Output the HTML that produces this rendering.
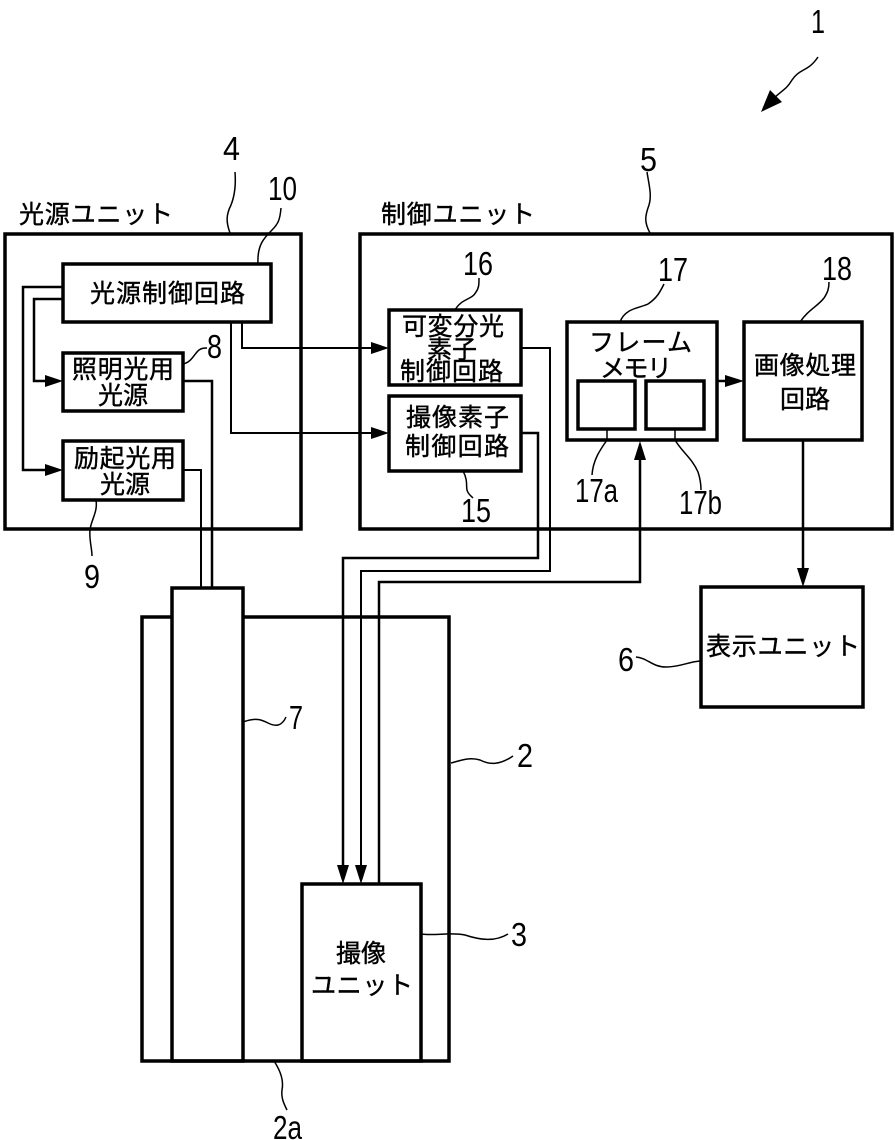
<!DOCTYPE html>
<html lang="ja">
<head>
<meta charset="utf-8">
<style>
html,body{margin:0;padding:0;background:#fff}
svg{display:block}
.j{font-family:"Liberation Sans","Noto Sans CJK JP",sans-serif;font-size:25px;fill:#000;stroke:#000;stroke-width:.4}
.n{font-family:"Liberation Sans",sans-serif;font-size:33px;fill:#000}
.t{fill:none;stroke:#000;stroke-width:3.5}
.w{fill:none;stroke:#000;stroke-width:2.5}
.c{fill:none;stroke:#000;stroke-width:2}
.s{fill:none;stroke:#000;stroke-width:1.5}
</style>
</head>
<body>
<svg width="895" height="1140" viewBox="0 0 895 1140" xmlns="http://www.w3.org/2000/svg">
<rect width="895" height="1140" fill="#fff"/>
<!-- unit boxes -->
<rect class="t" x="5" y="234" width="296" height="295"/>
<rect class="t" x="360" y="234" width="532" height="295"/>
<!-- light unit -->
<rect class="t" x="63" y="264" width="208" height="58"/>
<rect class="t" x="63" y="353" width="120" height="58"/>
<rect class="t" x="63" y="441" width="120" height="59"/>
<!-- control unit -->
<rect class="t" x="389" y="310" width="132" height="75"/>
<rect class="t" x="389" y="396" width="132" height="75"/>
<rect class="t" x="567" y="322" width="150" height="118"/>
<rect class="t" x="578" y="381" width="57" height="48"/>
<rect class="t" x="646" y="381" width="58" height="48"/>
<rect class="t" x="744" y="322" width="118" height="118"/>
<rect class="t" x="701" y="587" width="162" height="120"/>
<!-- scope body -->
<path class="t" d="M172 617H142V1061H449V617H243"/>
<rect class="t" x="172" y="588" width="71" height="473" fill="#fff"/>
<rect class="t" x="302" y="884" width="119" height="177" fill="#fff"/>
<!-- connectors -->
<path class="w" d="M63 287H23V470H50"/>
<path class="w" d="M63 299H34V381H50"/>
<path class="w" d="M183 381H212V588"/>
<path class="c" d="M183 470H201V588"/>
<path class="c" d="M242 322V348H372"/>
<path class="c" d="M231 322V433H372"/>
<path class="c" d="M521 348H550V571H361V866"/>
<path class="w" d="M521 433H538V558H343V866"/>
<path class="w" d="M379 884V582H640V458"/>
<path class="w" d="M717 381H728"/>
<path class="w" d="M803 440V570"/>
<!-- arrowheads -->
<g fill="#000">
<polygon points="63,470 45,464 45,476"/>
<polygon points="63,381 45,375 45,387"/>
<polygon points="389,348 371,342 371,354"/>
<polygon points="389,433 371,427 371,439"/>
<polygon points="744,381 725,375 725,387"/>
<polygon points="640,441 634,460 646,460"/>
<polygon points="803,587 797,568 809,568"/>
<polygon points="343,884 337,865 349,865"/>
<polygon points="361,884 355,865 367,865"/>
<polygon points="761,112 770,90 782,102"/>
</g>
<!-- leader lines -->
<path class="s" d="M818 57C808 72 800 68 792 80C786 90 782 90 772 100"/>
<path class="s" d="M230 233C226 222 226 215 231 205C235 195 236 185 235 172"/>
<path class="s" d="M258 264C257 245 264 238 272 230C278 224 280 220 281 208"/>
<path class="s" d="M183 364C192 362 194 354 199 350C202 348 204 348 207 348"/>
<path class="s" d="M96 500C98 512 91 520 90 530C89 540 92 548 92 556"/>
<path class="s" d="M650 233C644 222 645 216 649 205C652 195 649 185 647 172"/>
<path class="s" d="M455 310C462 298 472 300 476 292C479 288 479 284 479 278"/>
<path class="s" d="M620 322C625 308 640 308 648 304C657 298 660 292 664 284"/>
<path class="s" d="M800 322C808 310 818 306 824 298C828 292 829 288 829 282"/>
<path class="s" d="M463 471C468 480 466 486 467 490C468 494 471 496 473 498"/>
<path class="s" d="M607 429V440C600 450 593 460 592 475"/>
<path class="s" d="M675 429V440C682 452 692 458 698 472C700 478 701 484 701 490"/>
<path class="s" d="M636 657C648 658 652 667 666 667C680 667 688 662 700 661"/>
<path class="s" d="M243 722C256 717 262 720 268 723C276 727 282 726 286 717"/>
<path class="s" d="M451 763C462 760 470 757 480 760C490 765 500 765 513 756"/>
<path class="s" d="M421 934C435 936 450 932 465 935C480 940 495 942 508 934"/>
<path class="s" d="M274 1061C280 1070 284 1080 282 1090C281 1098 284 1104 287 1110"/>
<!-- CJK labels -->
<g class="j">
<text x="19" y="223" textLength="154">光源ユニット</text>
<text x="381" y="223" textLength="154">制御ユニット</text>
<text x="90" y="302" textLength="155">光源制御回路</text>
<text x="72" y="378" textLength="102">照明光用</text>
<text x="98" y="404" textLength="50">光源</text>
<text x="74" y="467" textLength="102">励起光用</text>
<text x="100" y="493" textLength="50">光源</text>
<text x="402" y="335" textLength="102">可変分光</text>
<text x="427" y="358" textLength="50">素子</text>
<text x="400" y="380" textLength="103">制御回路</text>
<text x="406" y="426" textLength="103">撮像素子</text>
<text x="405" y="455" textLength="104">制御回路</text>
<text x="589" y="351" textLength="103">フレーム</text>
<text x="600" y="377" textLength="72">メモリ</text>
<text x="754" y="374" textLength="102">画像処理</text>
<text x="780" y="408" textLength="50">回路</text>
<text x="706" y="655" textLength="154">表示ユニット</text>
<text x="336" y="962" textLength="50">撮像</text>
<text x="311" y="994" textLength="102">ユニット</text>
</g>
<!-- reference numbers -->
<g class="n">
<text x="811" y="33" textLength="14" lengthAdjust="spacingAndGlyphs">1</text>
<text x="223" y="160" textLength="17" lengthAdjust="spacingAndGlyphs">4</text>
<text x="268" y="200" textLength="29" lengthAdjust="spacingAndGlyphs">10</text>
<text x="640" y="171" textLength="17" lengthAdjust="spacingAndGlyphs">5</text>
<text x="207" y="358" textLength="15" lengthAdjust="spacingAndGlyphs">8</text>
<text x="84" y="588" textLength="16" lengthAdjust="spacingAndGlyphs">9</text>
<text x="463" y="275" textLength="30" lengthAdjust="spacingAndGlyphs">16</text>
<text x="658" y="281" textLength="30" lengthAdjust="spacingAndGlyphs">17</text>
<text x="822" y="280" textLength="30" lengthAdjust="spacingAndGlyphs">18</text>
<text x="461" y="522" textLength="30" lengthAdjust="spacingAndGlyphs">15</text>
<text x="575" y="502" textLength="43" lengthAdjust="spacingAndGlyphs">17a</text>
<text x="679" y="514" textLength="43" lengthAdjust="spacingAndGlyphs">17b</text>
<text x="618" y="671" textLength="16" lengthAdjust="spacingAndGlyphs">6</text>
<text x="289" y="729" textLength="14" lengthAdjust="spacingAndGlyphs">7</text>
<text x="517" y="767" textLength="16" lengthAdjust="spacingAndGlyphs">2</text>
<text x="511" y="946" textLength="16" lengthAdjust="spacingAndGlyphs">3</text>
<text x="273" y="1139" textLength="29" lengthAdjust="spacingAndGlyphs">2a</text>
</g>
</svg>
</body>
</html>
